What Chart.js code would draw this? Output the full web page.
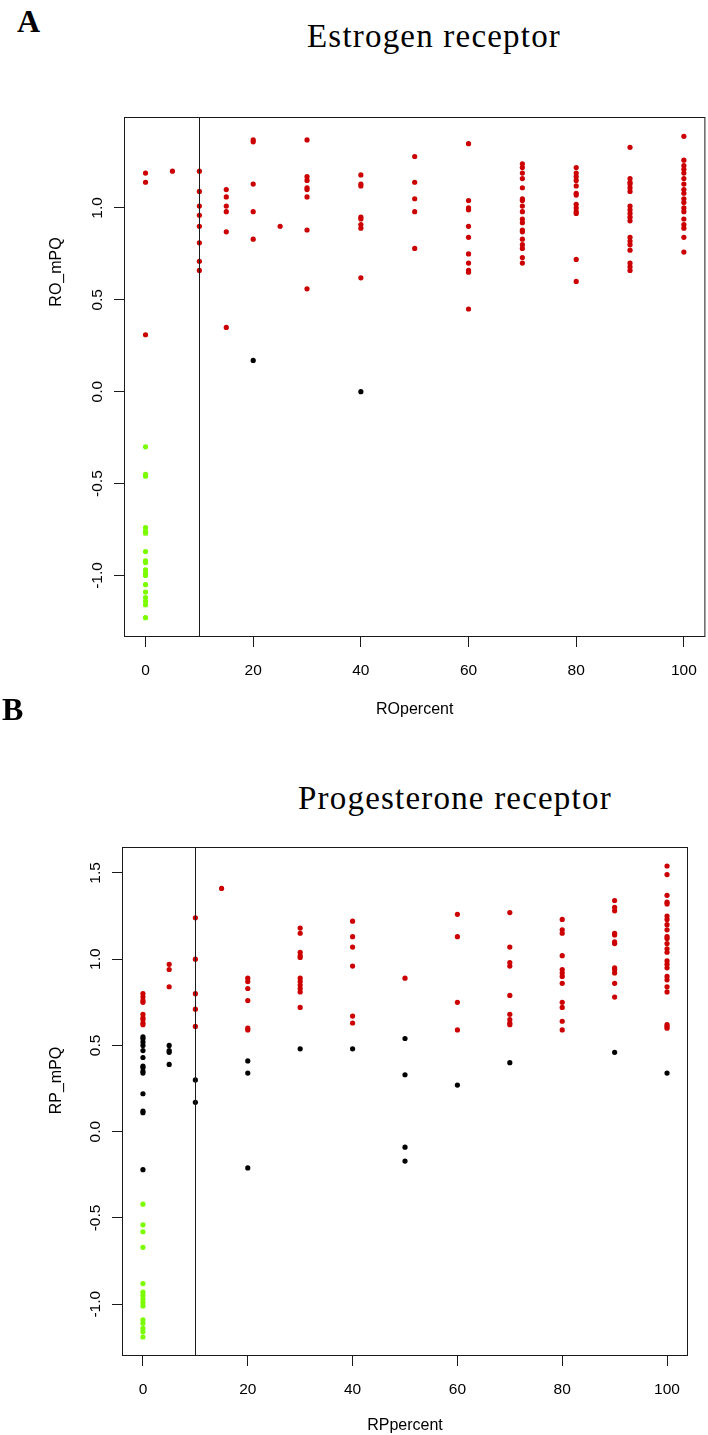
<!DOCTYPE html>
<html>
<head>
<meta charset="utf-8">
<script src="https://cdn.jsdelivr.net/npm/chart.js@4.4.1/dist/chart.umd.min.js"></script>
<style>
  html, body { margin: 0; padding: 0; background: #fff; }
  #page { position: relative; width: 708px; height: 1435px; overflow: hidden; }
  canvas { position: absolute; left: 0; }
  .tag { position: absolute; font: bold 32px 'Liberation Serif', serif; line-height: 1; color: #000; }
  .head { position: absolute; font: 33px 'Liberation Serif', serif; letter-spacing: 1.2px; line-height: 1; white-space: nowrap; color: #000; }
</style>
</head>
<body>
<div id="page">
  <div class="tag" style="left:17px; top:5px">A</div>
  <div class="head" style="left:307px; top:20px">Estrogen receptor</div>
  <canvas id="erChart" width="708" height="760" style="top:0"></canvas>
  <div class="tag" style="left:2px; top:693px">B</div>
  <div class="head" style="left:298px; top:782px">Progesterone receptor</div>
  <canvas id="prChart" width="708" height="675" style="top:760px"></canvas>
</div>
<script>
// x tick positions shared by both panels, cut-off line at 10 %
const xTicks = [0, 20, 40, 60, 80, 100]
const cutoff = 10

// Estrogen receptor: [ROpercent, RO_mPQ values]
const erTicks = [-1, -0.5, 0, 0.5, 1]
const erRed = [
  [0, [1.19, 1.14, 0.31]],
  [5, [1.20]],
  [10, [1.20, 1.09, 1.01, 0.96, 0.90, 0.81, 0.71, 0.66]],
  [15, [1.10, 1.06, 1.01, 0.98, 0.87, 0.35]],
  [20, [1.37, 1.36, 1.13, 0.98, 0.83]],
  [25, [0.90]],
  [30, [1.37, 1.17, 1.15, 1.11, 1.10, 1.06, 0.88, 0.56]],
  [40, [1.18, 1.13, 1.12, 0.95, 0.94, 0.91, 0.89, 0.62]],
  [50, [1.28, 1.14, 1.05, 0.98, 0.78]],
  [60, [1.35, 1.04, 1.00, 0.99, 0.90, 0.84, 0.75, 0.70, 0.66, 0.65, 0.45]],
  [70, [1.24, 1.22, 1.19, 1.16, 1.11, 1.05, 1.04, 1.01, 0.98, 0.94, 0.92, 0.88, 0.87, 0.83, 0.80, 0.78, 0.73, 0.70]],
  [80, [1.22, 1.19, 1.17, 1.15, 1.12, 1.08, 1.07, 1.02, 1.00, 0.98, 0.97, 0.72, 0.60]],
  [90, [1.33, 1.16, 1.14, 1.13, 1.11, 1.09, 1.01, 0.99, 0.97, 0.95, 0.93, 0.84, 0.82, 0.80, 0.77, 0.70, 0.68, 0.66]],
  [100, [1.39, 1.26, 1.23, 1.21, 1.19, 1.16, 1.13, 1.10, 1.08, 1.05, 1.03, 1.00, 0.98, 0.94, 0.91, 0.89, 0.84, 0.76]],
]
const erBlack = [
  [20, [0.17]],
  [40, [0.0]],
]
const erGreen = [
  [0, [-0.30, -0.45, -0.46, -0.74, -0.76, -0.77, -0.87, -0.92, -0.93, -0.97, -0.99, -1.00, -1.05, -1.09, -1.12, -1.14, -1.16, -1.23]],
]

// Progesterone receptor: [RPpercent, RP_mPQ values]
const prTicks = [-1, -0.5, 0, 0.5, 1, 1.5]
const prRed = [
  [0, [0.80, 0.78, 0.76, 0.75, 0.68, 0.66, 0.65, 0.63, 0.62]],
  [5, [0.97, 0.94, 0.84]],
  [10, [1.24, 1.00, 0.80, 0.71, 0.61]],
  [15, [1.41]],
  [20, [0.89, 0.87, 0.83, 0.76, 0.60, 0.59]],
  [30, [1.18, 1.15, 1.04, 1.02, 1.01, 0.89, 0.87, 0.85, 0.83, 0.81, 0.72]],
  [40, [1.22, 1.13, 1.07, 0.96, 0.67, 0.63]],
  [50, [0.89]],
  [60, [1.26, 1.13, 0.75, 0.59]],
  [70, [1.27, 1.07, 0.98, 0.96, 0.79, 0.68, 0.65, 0.63, 0.62]],
  [80, [1.23, 1.17, 1.15, 1.02, 0.94, 0.92, 0.90, 0.86, 0.75, 0.72, 0.64, 0.59]],
  [90, [1.34, 1.30, 1.28, 1.15, 1.14, 1.10, 1.09, 0.95, 0.94, 0.92, 0.86, 0.78]],
  [100, [1.54, 1.49, 1.37, 1.33, 1.32, 1.25, 1.23, 1.20, 1.17, 1.13, 1.12, 1.09, 1.06, 1.04, 0.99, 0.97, 0.95, 0.90, 0.88, 0.84, 0.81, 0.62, 0.61, 0.60]],
]
const prBlack = [
  [0, [0.55, 0.54, 0.52, 0.50, 0.47, 0.43, 0.38, 0.37, 0.35, 0.34, 0.22, 0.12, 0.11, -0.22]],
  [5, [0.50, 0.47, 0.46, 0.39]],
  [10, [0.30, 0.17]],
  [20, [0.41, 0.34, -0.21]],
  [30, [0.48]],
  [40, [0.48]],
  [50, [0.54, 0.33, -0.09, -0.17]],
  [60, [0.27]],
  [70, [0.40]],
  [90, [0.46]],
  [100, [0.34]],
]
const prGreen = [
  [0, [-0.42, -0.54, -0.58, -0.67, -0.88, -0.93, -0.95, -0.97, -0.99, -1.01, -1.09, -1.11, -1.14, -1.16, -1.19]],
]

const RED = '#cc0000'
const BLACK = '#000000'
const GREEN = '#7cfc00'
const sans = '"Liberation Sans", Arial, Helvetica, sans-serif'

const toPoints = (cols) => cols.flatMap(([x, ys]) => ys.map((y) => ({x, y})))

// R-ish plot: full box, abline(v = cutoff), y labels parallel to the axis
const rFrame = {
  id: 'rFrame',
  afterDatasetsDraw(chart, args, opts) {
    const {ctx, chartArea: a, scales: {x, y}} = chart
    ctx.save()
    ctx.strokeStyle = '#1a1a1a'
    ctx.lineWidth = 1
    ctx.strokeRect(a.left + 0.5, a.top + 0.5, a.width - 1, a.height - 1)
    const vx = Math.round(x.getPixelForValue(cutoff)) + 0.5
    ctx.beginPath()
    ctx.moveTo(vx, a.top)
    ctx.lineTo(vx, a.bottom)
    ctx.stroke()
    ctx.fillStyle = '#000'
    ctx.font = '15.5px ' + sans
    ctx.textAlign = 'center'
    ctx.textBaseline = 'alphabetic'
    y.ticks.forEach((t) => {
      ctx.save()
      ctx.translate(a.left - 22, y.getPixelForValue(t.value))
      ctx.rotate(-Math.PI / 2)
      ctx.fillText(t.value.toFixed(1), 0, 0)
      ctx.restore()
    })
    // axis title, sits a bit above the middle in the original figure
    ctx.font = '16px ' + sans
    ctx.textBaseline = 'middle'
    ctx.save()
    ctx.translate(57, (a.top + a.bottom) / 2 + opts.titleShift)
    ctx.rotate(-Math.PI / 2)
    ctx.fillText(opts.yTitle, 0, 0)
    ctx.restore()
    ctx.restore()
  },
}

function makePlot(el, o) {
  const axisGrid = {drawOnChartArea: false, drawTicks: true, tickLength: 10, color: '#1a1a1a', lineWidth: 1}
  return new Chart(el, {
    type: 'scatter',
    data: {
      datasets: [
        {label: 'red', data: toPoints(o.red), backgroundColor: RED},
        {label: 'black', data: toPoints(o.black), backgroundColor: BLACK},
        {label: 'green', data: toPoints(o.green), backgroundColor: GREEN},
      ],
    },
    options: {
      responsive: false,
      animation: false,
      events: [],
      layout: {padding: o.padding},
      elements: {point: {radius: 2.6, borderWidth: 0, hoverRadius: 2.6}},
      plugins: {
        legend: {display: false},
        tooltip: {enabled: false},
        rFrame: {yTitle: o.yTitle, titleShift: o.titleShift},
      },
      scales: {
        x: {
          type: 'linear',
          min: -4,
          max: 104,
          afterBuildTicks: (s) => { s.ticks = xTicks.map((v) => ({value: v})) },
          afterFit: (s) => { s.height = o.xHeight; s.paddingLeft = 0; s.paddingRight = 0 },
          ticks: {padding: 14, color: '#000', font: {family: sans, size: 15.5}, callback: (v) => String(v)},
          title: {display: true, text: o.xTitle, color: '#000', font: {family: sans, size: 16}, padding: 0},
          grid: axisGrid,
          border: {display: false},
        },
        y: {
          type: 'linear',
          min: o.yMin,
          max: o.yMax,
          afterBuildTicks: (s) => { s.ticks = o.yTicks.map((v) => ({value: v})) },
          afterFit: (s) => { s.width = o.yWidth; s.paddingTop = 0; s.paddingBottom = 0 },
          ticks: {display: false},
          title: {display: false},
          grid: axisGrid,
          border: {display: false},
        },
      },
    },
    plugins: [rFrame],
  })
}

makePlot(document.getElementById('erChart'), {
  red: erRed, black: erBlack, green: erGreen,
  yTicks: erTicks, yMin: -1.335, yMax: 1.495,
  xTitle: 'ROpercent', yTitle: 'RO_mPQ', titleShift: -105,
  padding: {top: 117, right: 2, bottom: 41, left: 0},
  xHeight: 82, yWidth: 124,
})

makePlot(document.getElementById('prChart'), {
  red: prRed, black: prBlack, green: prGreen,
  yTicks: prTicks, yMin: -1.30, yMax: 1.65,
  xTitle: 'RPpercent', yTitle: 'RP_mPQ', titleShift: -21,
  padding: {top: 87, right: 20, bottom: 0, left: 0},
  xHeight: 79, yWidth: 122,
})
</script>
</body>
</html>
